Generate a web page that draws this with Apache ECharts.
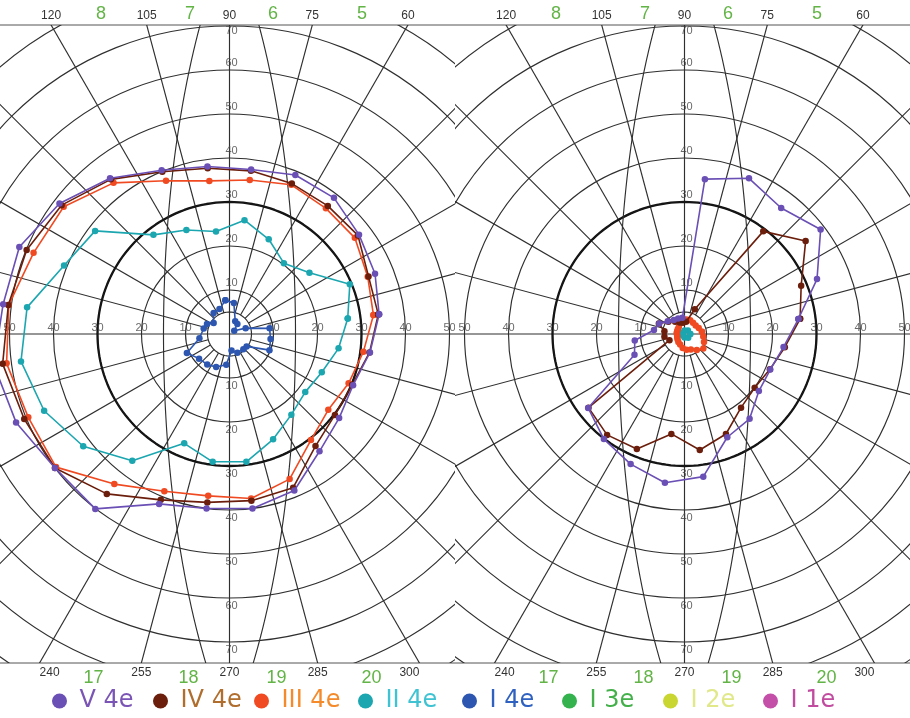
<!DOCTYPE html>
<html><head><meta charset="utf-8">
<script src="https://cdn.jsdelivr.net/npm/echarts@6/dist/echarts.min.js"></script>
<style>
html,body{margin:0;padding:0;background:#fff;}
body{width:910px;height:718px;position:relative;overflow:hidden;}
#bg{position:absolute;left:0;top:0;width:910px;height:718px;z-index:1;}
#pl{position:absolute;left:0;top:25px;width:455px;height:638px;z-index:2;}
#pr{position:absolute;left:455px;top:25px;width:455px;height:638px;z-index:2;}
</style></head>
<body>
<div id="bg"></div><div id="pl"></div><div id="pr"></div>
<script>
// ---------------- data ----------------
const ANGLES = [7.5,22.5,37.5,52.5,67.5,82.5,97.5,112.5,127.5,142.5,157.5,172.5,187.5,202.5,217.5,232.5,247.5,262.5,277.5,292.5,307.5,322.5,337.5,352.5];

// left eye
const L_V4E   = [34.3,35.8,37.1,39.0,39.1,37.7,38.4,40.3,44.6,48.7,51.7,51.9,54.0,52.5,50.0,50.1,41.8,40.0,40.0,38.5,33.6,31.4,30.4,32.2];
const L_IV4E  = [34.1,34.2,36.8,36.7,37.0,37.4,38.0,39.9,44.3,48.1,49.9,50.7,52.0,50.5,50.0,45.8,40.8,38.6,38.2,37.8,32.1,30.2,30.2,32.1];
const L_III4E = [33.0,34.0,35.9,36.0,36.7,35.3,35.1,37.7,43.3,47.5,48.2,50.6,51.1,49.5,49.7,43.0,38.7,37.1,37.7,35.7,30.4,28.3,29.3,30.7];
const L_II4E  = [27.1,29.6,22.9,20.3,23.3,26.1,23.5,25.6,28.4,38.5,40.7,46.4,47.8,45.6,41.9,36.3,26.9,29.3,29.3,25.9,23.1,21.7,22.7,25.0];
const L_I4E_ANG = [97,82,66,52,34,20,8,353,338,324,312,293,277,264,248,234,219,204,188,168,156,145,127,112];
const L_I4E     = [7.7,7.1,3.2,2.9,1.3,3.9,9.2,9.4,9.8,4.8,4.7,4.6,3.8,7.0,8.1,8.6,8.9,10.6,6.9,6.0,5.6,4.4,6.0,6.1];

// right eye
const R_V4E   = [26.1,32.6,39.0,36.1,38.3,35.5,3.7,3.8,4.0,4.8,6.2,7.0,11.4,12.3,27.6,30.1,32.0,34.1,32.7,25.4,24.3,21.3,21.1,22.7];
const R_IV4E  = [26.5,28.7,34.7,29.4,6.1,2.8,2.6,2.8,3.5,4.6,6.3,4.6,4.6,3.7,27.5,28.9,28.3,22.9,26.6,24.6,21.1,20.1,21.0,23.0];
const R_III4E = [4.0,3.5,3.2,3.2,3.4,3.3,3.2,2.7,2.1,1.9,1.8,1.8,1.7,1.8,2.0,2.3,2.6,3.2,3.6,3.8,4.6,5.4,4.8,4.3];
const R_II4E_ANG = [0,45,90,135,180,225,270,315];
const R_II4E     = [1.3,1.1,0.8,0.5,0.4,0.5,0.8,1.2];

// legend / labels
const SERIES_NAMES = ['V 4e','IV 4e','III 4e','II 4e','I 4e','I 3e','I 2e','I 1e'];
const SERIES_COLORS = ['#6a4fb5','#6b1e0b','#f04a22','#1ba6b0','#2c56b0','#33b24e','#c9d631','#c44fa8'];
const LEGEND_TEXT_COLORS = ['#7a55b5','#b06e2e','#f48a2a','#3fc3d3','#2f62c0','#43b04a','#e0e88a','#c14c9f'];
const TOP_ANGLES = [120,105,90,75,60];
const BOTTOM_ANGLES = [240,255,270,285,300];
const TOP_SECTORS = ['8','7','6','5'];
const BOTTOM_SECTORS = ['17','18','19','20'];
const RING_LABELS = [10,20,30,40,50,60,70];

// ---------------- geometry / style ----------------
const CX = 229.5, CY_ABS = 334, TOP_Y = 25, BOT_Y = 663;
const PX_PER_DEG = 4.4, RMAX = 90;
const GRID = '#2f2f2f';
const GW = 1.15;
const SPOKES = []; for (let a = 0; a < 360; a += 15) SPOKES.push(a);
const CIRCLE_ANG = []; for (let a = 0; a <= 360; a += 2) CIRCLE_ANG.push(a);
const LEGEND_ICON_X = [67,168,269,373,477,577,678,778];

function lonCurve(lam) {
  const pts = [];
  const l = lam * Math.PI / 180;
  for (let p = -89; p <= 89; p += 1) {
    const f = p * Math.PI / 180;
    const X = Math.cos(f) * Math.sin(l), Y = Math.sin(f), Z = Math.cos(f) * Math.cos(l);
    const c = Math.acos(Z) * 180 / Math.PI;
    let a = Math.atan2(Y, X) * 180 / Math.PI; if (a < 0) a += 360;
    pts.push([c, a]);
  }
  return pts;
}

function gridSeries() {
  const s = [];
  const base = {type:'line', coordinateSystem:'polar', symbol:'none', silent:true, animation:false, z:1};
  SPOKES.forEach(a => {
    const r0 = (a % 90 === 0) ? 0 : 5;
    s.push(Object.assign({}, base, {data:[[r0,a],[RMAX,a]], lineStyle:{color:GRID, width:GW}}));
  });
  s.push(Object.assign({}, base, {data:CIRCLE_ANG.map(a=>[5,a]), lineStyle:{color:GRID, width:GW}}));
  s.push(Object.assign({}, base, {data:CIRCLE_ANG.map(a=>[30,a]), lineStyle:{color:'#151515', width:2.3}}));
  [15,-15].forEach(l => s.push(Object.assign({}, base, {data:lonCurve(l), lineStyle:{color:GRID, width:GW}})));
  // ring labels
  const lab = [];
  RING_LABELS.forEach(r => {
    lab.push({name:String(r), value:[r, 90], label:{offset:[2, r===70 ? 5 : -7]}});
    lab.push({name:String(r), value:[r, 270], label:{offset:[2, 8]}});
    lab.push({name:String(r), value:[r, 0], label:{offset:[0, -6]}});
    lab.push({name:String(r), value:[r, 180], label:{offset:[0, -6]}});
  });
  s.push({type:'scatter', coordinateSystem:'polar', silent:true, animation:false, z:2,
    symbolSize:1, itemStyle:{color:'rgba(0,0,0,0)'}, data:lab,
    label:{show:true, position:'inside', formatter:'{b}', color:'#444', fontSize:11, fontFamily:'Liberation Sans'}});
  return s;
}

function dataSeries(name, idx, radii, angles) {
  const d = radii.map((r,i)=>[r, angles[i]]);
  d.push(d[0]);
  return {type:'line', name:name, coordinateSystem:'polar', data:d, animation:false, z:5 - idx*0.1,
    symbol:'circle', symbolSize:6.5, itemStyle:{color:SERIES_COLORS[idx]},
    lineStyle:{color:SERIES_COLORS[idx], width:1.6}};
}

function panelOption(ds) {
  return {
    animation:false,
    polar:{center:[CX, CY_ABS - TOP_Y], radius: RMAX * PX_PER_DEG},
    angleAxis:{type:'value', min:0, max:360, startAngle:0, clockwise:false,
      axisLine:{show:false}, axisTick:{show:false}, axisLabel:{show:false}, splitLine:{show:false}},
    radiusAxis:{type:'value', min:0, max:RMAX, interval:10,
      axisLine:{show:false}, axisTick:{show:false}, axisLabel:{show:false},
      splitLine:{show:true, lineStyle:{color:GRID, width:GW}}},
    series: gridSeries().concat(ds)
  };
}

const left = echarts.init(document.getElementById('pl'));
left.setOption(panelOption([
  dataSeries('II 4e',3,L_II4E,ANGLES),
  dataSeries('III 4e',2,L_III4E,ANGLES),
  dataSeries('IV 4e',1,L_IV4E,ANGLES),
  dataSeries('V 4e',0,L_V4E,ANGLES),
  dataSeries('I 4e',4,L_I4E,L_I4E_ANG)
]));
const right = echarts.init(document.getElementById('pr'));
right.setOption(panelOption([
  dataSeries('III 4e',2,R_III4E,ANGLES),
  dataSeries('II 4e',3,R_II4E,R_II4E_ANG),
  dataSeries('IV 4e',1,R_IV4E,ANGLES),
  dataSeries('V 4e',0,R_V4E,ANGLES)
]));

// ---------------- background: frame labels + legend ----------------
function spokeX(a, y) { const t = a*Math.PI/180; return CX + (CY_ABS - y) * Math.cos(t) / Math.sin(t); }
const graphics = [];
[0, 455].forEach(off => {
  const tx = TOP_ANGLES.map(a => off + spokeX(a, TOP_Y));
  TOP_ANGLES.forEach((a,i) => graphics.push({type:'text', x:tx[i], y:16, style:{text:String(a), fill:'#333', font:'12px "Liberation Sans"', align:'center', verticalAlign:'middle'}}));
  TOP_SECTORS.forEach((t,i) => graphics.push({type:'text', x:(tx[i]+tx[i+1])/2 + 2, y:14, style:{text:t, fill:'#62b446', font:'18px "Liberation Sans"', align:'center', verticalAlign:'middle'}}));
  const bx = BOTTOM_ANGLES.map(a => off + spokeX(a, BOT_Y));
  const nudge = [10,0,0,0,-10];
  BOTTOM_ANGLES.forEach((a,i) => graphics.push({type:'text', x:bx[i]+nudge[i], y:673, style:{text:String(a), fill:'#333', font:'12px "Liberation Sans"', align:'center', verticalAlign:'middle'}}));
  BOTTOM_SECTORS.forEach((t,i) => graphics.push({type:'text', x:(bx[i]+bx[i+1])/2 + 3, y:678, style:{text:t, fill:'#62b446', font:'18px "Liberation Sans"', align:'center', verticalAlign:'middle'}}));
});
graphics.push({type:'line', shape:{x1:0,y1:TOP_Y,x2:910,y2:TOP_Y}, style:{stroke:'#555', lineWidth:1}});
graphics.push({type:'line', shape:{x1:0,y1:BOT_Y,x2:910,y2:BOT_Y}, style:{stroke:'#555', lineWidth:1}});

const legends = SERIES_NAMES.map((n,i) => ({
  left: LEGEND_ICON_X[i] - 15, top: 689, padding: 0, itemWidth: 30, itemHeight: 15, icon: 'circle',
  textStyle: {fontSize: 24, fontFamily: 'DejaVu Sans', color: LEGEND_TEXT_COLORS[i]},
  data: [n]
}));

const bg = echarts.init(document.getElementById('bg'));
bg.setOption({
  animation:false,
  grid:{show:false, left:0, top:0, width:10, height:10},
  xAxis:{type:'value', show:false}, yAxis:{type:'value', show:false},
  legend: legends,
  graphic: graphics,
  series: SERIES_NAMES.map((n,i)=>({type:'line', name:n, data:[], itemStyle:{color:SERIES_COLORS[i]}, lineStyle:{color:SERIES_COLORS[i]}}))
});
</script>
</body></html>
